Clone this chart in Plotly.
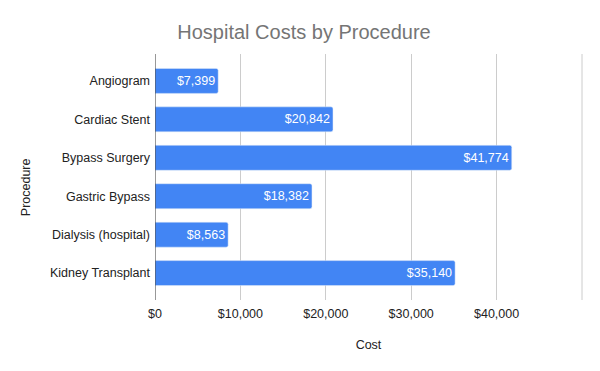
import plotly.graph_objects as go

procedures = ["Angiogram", "Cardiac Stent", "Bypass Surgery", "Gastric Bypass", "Dialysis (hospital)", "Kidney Transplant"]
costs = [7399, 20842, 41774, 18382, 8563, 35140]
tick_values = [0, 10000, 20000, 30000, 40000, 50000]
tick_labels = ["$0", "$10,000", "$20,000", "$30,000", "$40,000", ""]

FONT = "Liberation Sans, Arial, sans-serif"

fig = go.Figure(go.Bar(
    x=costs, y=procedures, orientation="h",
    marker=dict(color="#4285F4", cornerradius=2),
    width=0.65,
    text=[f"${v:,}" for v in costs],
    textposition="inside", insidetextanchor="end",
    textfont=dict(color="white", size=12.5, family=FONT),
))

fig.update_layout(
    width=592, height=363,
    margin=dict(l=147, r=18, t=46, b=71),
    paper_bgcolor="white", plot_bgcolor="white",
    font=dict(family=FONT, size=12.5, color="#222222"),
    title=dict(text="Hospital Costs by Procedure", x=0.5, xanchor="center", y=0.934, yanchor="middle",
               font=dict(size=20, color="#757575", family=FONT)),
    showlegend=False,
    xaxis=dict(range=[0, 50000], tickvals=tick_values, ticktext=tick_labels,
               showgrid=True, gridcolor="#cccccc", gridwidth=1, zeroline=False,
               ticks="", ticklabelstandoff=4, automargin=False,
               title=dict(text="Cost", standoff=20, font=dict(size=12.5, color="#222222"))),
    yaxis=dict(autorange=False, range=[5.7, -0.7], showgrid=False, zeroline=False,
               ticks="", ticklabelstandoff=4, automargin=False),
    annotations=[dict(text="Procedure", textangle=-90, xref="paper", yref="paper",
                      x=-0.303, y=0.457, xanchor="center", yanchor="middle", showarrow=False,
                      font=dict(size=12.5, color="#222222", family=FONT))],
    shapes=[dict(type="line", xref="paper", yref="paper", x0=1, x1=1, y0=0, y1=1,
                 line=dict(color="#cccccc", width=1), layer="below"),
            dict(type="line", xref="x", yref="paper", x0=0, x1=0, y0=0, y1=1,
                 line=dict(color="#333333", width=1))],
)

fig.write_html("out.html")
